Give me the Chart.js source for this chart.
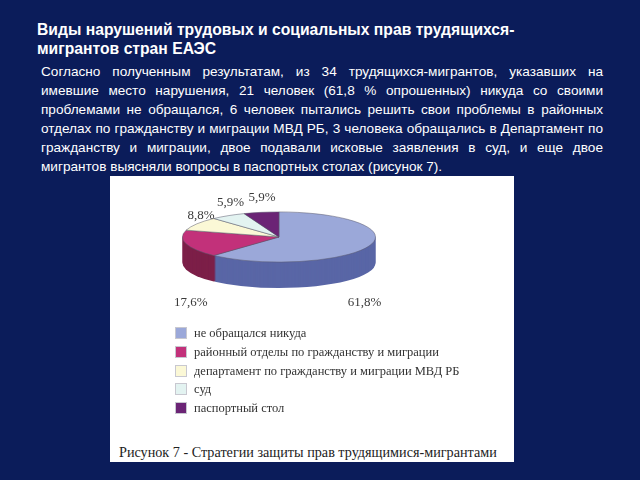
<!DOCTYPE html>
<html>
<head>
<meta charset="utf-8">
<script src="https://cdn.jsdelivr.net/npm/chart.js@4"></script>
<style>
  body { margin: 0; width: 640px; height: 480px; background: #0b1c5a; position: relative; overflow: hidden; font-family: "Liberation Sans", Arial, sans-serif; }
  .title { position: absolute; left: 37px; top: 20px; color: #fff; font-weight: bold; font-size: 15.7px; line-height: 19px; }
  .text { position: absolute; left: 41px; top: 62px; width: 562px; color: #fff; font-size: 13.6px; line-height: 19px; }
  .text div { text-align: justify; text-align-last: justify; white-space: nowrap; }
  .text div.last { text-align-last: left; }
  .box { position: absolute; left: 110px; top: 176px; width: 404px; height: 286px; background: #fff; }
  #pie { position: absolute; left: 129px; top: 140px; }
  .legend { position: absolute; left: 175px; top: 325px; font-family: "Liberation Serif", "Times New Roman", serif; font-size: 12.5px; color: #333; }
  .legend div { height: 18.8px; line-height: 16px; white-space: nowrap; }
  .legend span { display: inline-block; width: 12px; height: 12px; margin-right: 7px; vertical-align: -2px; border: 1px solid #c8c8d0; box-sizing: border-box; }
  .caption { position: absolute; left: 119px; top: 444px; font-family: "Liberation Serif", "Times New Roman", serif; font-size: 14.2px; color: #222; white-space: nowrap; }
</style>
</head>
<body>
<div class="title">Виды нарушений трудовых и социальных прав трудящихся-<br>мигрантов стран ЕАЭС</div>
<div class="text">
  <div>Согласно полученным результатам, из 34 трудящихся-мигрантов, указавших на</div>
  <div>имевшие место нарушения, 21 человек (61,8 % опрошенных) никуда со своими</div>
  <div>проблемами не обращался, 6 человек пытались решить свои проблемы в районных</div>
  <div>отделах по гражданству и миграции МВД РБ, 3 человека обращались в Департамент по</div>
  <div>гражданству и миграции, двое подавали исковые заявления в суд, и еще двое</div>
  <div class="last">мигрантов выясняли вопросы в паспортных столах (рисунок 7).</div>
</div>
<div class="box"></div>
<canvas id="pie" width="300" height="194"></canvas>
<div class="legend" id="legend"></div>
<div class="caption">Рисунок 7 - Стратегии защиты прав трудящимися-мигрантами</div>
<script>
const categories = ['не обращался никуда', 'районный отделы по гражданству и миграции', 'департамент по гражданству и миграции МВД РБ', 'суд', 'паспортный стол'];
const shares = [61.8, 17.6, 8.8, 5.9, 5.9];
const topColors = ['#9ba8d9', '#c2317a', '#fbf8d6', '#e3f3f1', '#6b2475'];
const sideColors = ['#5966a6', '#7c1f48', '#c9c39a', '#a9bcb9', '#461650'];

// legend
let legend = document.getElementById('legend');
categories.forEach((c, i) => {
  let row = document.createElement('div');
  row.innerHTML = '<span style="background:' + topColors[i] + '"></span>' + c;
  legend.appendChild(row);
});

const tilt = 0.26;
const depth = 26;

// flattened pie with extruded side
const pie3d = {
  id: 'pie3d',
  beforeDatasetsDraw(chart) {
    const ctx = chart.ctx;
    const arcs = chart.getDatasetMeta(0).data;
    const cx = arcs[0].x, cy = arcs[0].y;
    for (let d = depth; d > 0; d--) {
      ctx.save();
      ctx.translate(cx, cy + d);
      ctx.scale(1, tilt);
      arcs.forEach((a, i) => {
        ctx.beginPath();
        ctx.moveTo(0, 0);
        ctx.arc(0, 0, a.outerRadius, a.startAngle, a.endAngle);
        ctx.closePath();
        ctx.fillStyle = sideColors[i];
        ctx.fill();
      });
      ctx.restore();
    }
    ctx.save();
    ctx.translate(cx, cy);
    ctx.scale(1, tilt);
    ctx.translate(-cx, -cy);
  },
  afterDatasetsDraw(chart) {
    chart.ctx.restore();
  },
  afterDraw(chart) {
    const ctx = chart.ctx;
    const arcs = chart.getDatasetMeta(0).data;
    ctx.save();
    ctx.font = '13px "Liberation Serif", "Times New Roman", serif';
    ctx.fillStyle = '#3a3a3a';
    ctx.textAlign = 'center';
    ctx.textBaseline = 'middle';
    arcs.forEach((a, i) => {
      const mid = (a.startAngle + a.endAngle) / 2;
      const r = a.outerRadius;
      const x = a.x + 0.95 * r * Math.cos(mid);
      let y;
      if (Math.sin(mid) > 0) y = a.y + r * tilt + depth + 14;
      else y = a.y + 0.42 * r * Math.sin(mid);
      ctx.fillText(shares[i].toFixed(1).replace('.', ',') + '%', x, y);
    });
    ctx.restore();
  }
};

let pie = document.getElementById('pie').getContext('2d');

let pieChart = new Chart(pie, {
  type: 'pie',
  data: {
    labels: categories,
    datasets: [{
      data: shares,
      backgroundColor: topColors,
      borderColor: 'rgba(90, 90, 110, 0.8)',
      borderWidth: 1,
      clip: false
    }]
  },
  options: {
    responsive: false,
    animation: false,
    events: [],
    plugins: {
      legend: { display: false },
      tooltip: { enabled: false }
    }
  },
  plugins: [pie3d]
});
</script>
</body>
</html>
